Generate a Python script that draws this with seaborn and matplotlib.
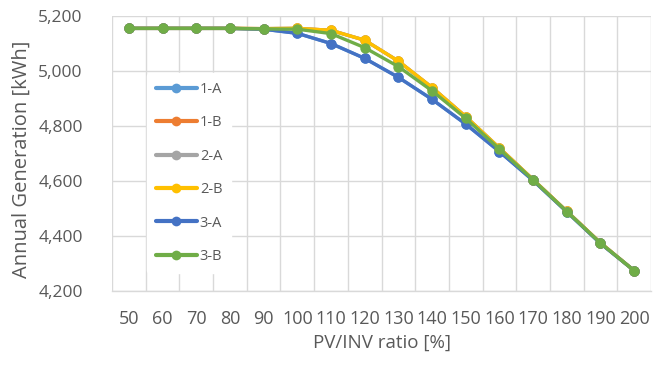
import numpy as np
import pandas as pd
import matplotlib
matplotlib.use("Agg")
import matplotlib.pyplot as plt
import seaborn as sns
from matplotlib.ticker import FixedLocator, FuncFormatter

ratios = [50, 60, 70, 80, 90, 100, 110, 120, 130, 140, 150, 160, 170, 180, 190, 200]
series_names = ["1-A", "1-B", "2-A", "2-B", "3-A", "3-B"]
gen_1A = [5155, 5155, 5155, 5155, 5152, 5137, 5100, 5046, 4977, 4897, 4807, 4707, 4602, 4488, 4373, 4274]
gen_1B = [5155, 5155, 5155, 5155, 5154, 5155, 5148, 5112, 5036, 4940, 4834, 4720, 4605, 4490, 4375, 4274]
gen_2A = [5155, 5155, 5155, 5155, 5154, 5155, 5148, 5112, 5036, 4940, 4834, 4720, 4605, 4490, 4375, 4274]
gen_2B = [5155, 5155, 5155, 5155, 5154, 5155, 5148, 5112, 5036, 4940, 4834, 4720, 4605, 4490, 4375, 4274]
gen_3A = [5155, 5155, 5155, 5155, 5152, 5137, 5100, 5046, 4977, 4897, 4807, 4707, 4602, 4488, 4373, 4274]
gen_3B = [5155, 5155, 5155, 5155, 5153, 5152, 5136, 5085, 5016, 4928, 4828, 4716, 4604, 4489, 4374, 4274]
colors = ["#5B9BD5", "#ED7D31", "#A5A5A5", "#FFC000", "#4472C4", "#70AD47"]

all_vals = [gen_1A, gen_1B, gen_2A, gen_2B, gen_3A, gen_3B]
df = pd.DataFrame({
    "ratio": np.tile(ratios, len(series_names)),
    "gen": np.concatenate(all_vals),
    "series": np.repeat(series_names, len(ratios)),
})

sns.set_style("white")
plt.rcParams["font.family"] = ["Open Sans", "DejaVu Sans"]
txt = "#595959"

fig = plt.figure(figsize=(6.64, 3.67), dpi=100)
ax = fig.add_axes([112 / 664, 1 - 291 / 367, (651 - 112) / 664, (291 - 16) / 367])

sns.lineplot(data=df, x="ratio", y="gen", hue="series", hue_order=series_names,
             palette=colors, marker="o", markersize=7.5, markeredgewidth=0,
             linewidth=2.4, ax=ax, legend=True)

ax.set_xlim(45, 205)
ax.set_ylim(4200, 5200)
ax.set_yticks(np.arange(4200, 5201, 200))
ax.yaxis.set_major_formatter(FuncFormatter(lambda v, p: f"{int(v):,}"))
ax.xaxis.set_major_locator(FixedLocator(ratios))
ax.xaxis.set_minor_locator(FixedLocator([r - 5 for r in ratios] + [205]))
ax.set_xticklabels([str(r) for r in ratios])

ax.grid(False)
ax.grid(True, axis="y", which="major", color="#D9D9D9", linewidth=1.0)
ax.grid(True, axis="x", which="minor", color="#D9D9D9", linewidth=1.0)
for s in ["top", "right", "left"]:
    ax.spines[s].set_visible(False)
ax.spines["bottom"].set_color("#D9D9D9")
ax.spines["bottom"].set_linewidth(1.0)

ax.tick_params(axis="x", which="major", direction="in", length=5, color="#D9D9D9",
               labelsize=13, labelcolor=txt, pad=14)
ax.tick_params(axis="x", which="minor", length=0)
ax.tick_params(axis="y", length=0, labelsize=12.5, labelcolor=txt, pad=21)

ax.set_xlabel("PV/INV ratio [%]", fontsize=13.5, color=txt, va="center")
ax.set_ylabel("Annual Generation [kWh]", fontsize=14.5, color=txt, va="center")
ax.xaxis.set_label_coords((382 - 112) / 539, (291 - 343) / 275)
ax.yaxis.set_label_coords((22 - 112) / 539, (291 - 159) / 275)

leg = ax.legend(loc="upper left", bbox_to_anchor=(28 / 539, 1 - 50 / 275), frameon=True,
                facecolor="white", edgecolor="white", framealpha=1.0,
                fontsize=10.5, labelspacing=1.26, handlelength=2.8, handletextpad=0.2,
                borderpad=0.6, title=None)
for t in leg.get_texts():
    t.set_color(txt)
for h in leg.legend_handles:
    h.set_linewidth(3)
    h.set_markersize(7)

fig.savefig("out.png", dpi=100)
